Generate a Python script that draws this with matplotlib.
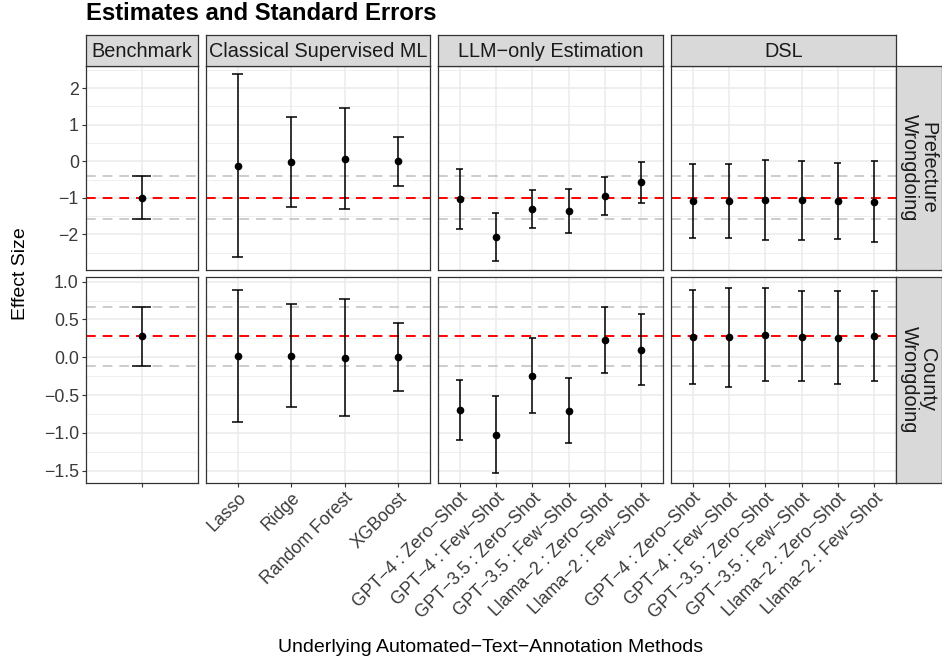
"""Estimates and standard errors for the four estimation approaches"""

import matplotlib.pyplot as plt

plt.rcParams['font.family'] = ['Liberation Sans', 'DejaVu Sans']
plt.rcParams['lines.scale_dashes'] = False

# Column and row labels
groups = ['Benchmark', 'Classical Supervised ML', 'LLM\u2212only Estimation', 'DSL']
outcomes = ['Prefecture\nWrongdoing', 'County\nWrongdoing']

# Methods in each column (Benchmark has a blank label)
llm_methods = ['GPT\u22124 : Zero\u2212Shot', 'GPT\u22124 : Few\u2212Shot',
               'GPT\u22123.5 : Zero\u2212Shot', 'GPT\u22123.5 : Few\u2212Shot',
               'Llama\u22122 : Zero\u2212Shot', 'Llama\u22122 : Few\u2212Shot']
methods = [[''], ['Lasso', 'Ridge', 'Random Forest', 'XGBoost'], llm_methods, llm_methods]

# Prefecture wrongdoing: estimate, lower and upper bounds per column
pref_est = [[-0.99],
            [-0.13, -0.02, 0.07, 0.00],
            [-1.02, -2.07, -1.30, -1.37, -0.95, -0.58],
            [-1.08, -1.08, -1.07, -1.07, -1.08, -1.10]]
pref_lo = [[-1.58],
           [-2.62, -1.25, -1.30, -0.67],
           [-1.84, -2.73, -1.83, -1.97, -1.47, -1.14],
           [-2.10, -2.09, -2.16, -2.16, -2.13, -2.20]]
pref_hi = [[-0.40],
           [2.37, 1.21, 1.45, 0.66],
           [-0.20, -1.40, -0.78, -0.75, -0.43, -0.03],
           [-0.07, -0.07, 0.03, 0.00, -0.05, 0.01]]

# County wrongdoing: estimate, lower and upper bounds per column
county_est = [[0.277],
              [0.01, 0.02, -0.01, 0.00],
              [-0.70, -1.03, -0.25, -0.71, 0.23, 0.10],
              [0.27, 0.27, 0.29, 0.27, 0.26, 0.285]]
county_lo = [[-0.11],
             [-0.86, -0.66, -0.78, -0.45],
             [-1.10, -1.53, -0.74, -1.14, -0.21, -0.37],
             [-0.36, -0.39, -0.32, -0.32, -0.35, -0.31]]
county_hi = [[0.667],
             [0.89, 0.71, 0.77, 0.45],
             [-0.30, -0.51, 0.25, -0.28, 0.67, 0.57],
             [0.89, 0.92, 0.92, 0.87, 0.87, 0.88]]

# y axis ticks per row
pref_ticks = [-2, -1, 0, 1, 2]
pref_minor = [-2.5, -1.5, -0.5, 0.5, 1.5, 2.5]
county_ticks = [-1.5, -1.0, -0.5, 0.0, 0.5, 1.0]
county_minor = [-1.25, -0.75, -0.25, 0.25, 0.75]

W, H = 942, 661
fig = plt.figure(figsize=(W / 100, H / 100), dpi=100)

# Pixel layout of the panel grid
col_left = [85.7, 205.7, 437.7, 670.7]
col_width = [112.3, 224.6, 225.3, 225.3]
row_top = [65.7, 276.7]
row_height = [204.3, 206.0]
border = '#333333'
tick_col = '#3a3a3a'


def px_axes(x, y, w, h):
    """Add axes from pixel box measured from the top-left corner"""
    return fig.add_axes([x / W, 1 - (y + h) / H, w / W, h / H])


rows = [(pref_est, pref_lo, pref_hi, (-2.97, 2.61), pref_ticks, pref_minor, ['2', '1', '0', '\u22121', '\u22122'][::-1]),
        (county_est, county_lo, county_hi, (-1.66, 1.065), county_ticks, county_minor,
         ['\u22121.5', '\u22121.0', '\u22120.5', '0.0', '0.5', '1.0'])]

for r, (est, lo, hi, ylim, ticks, minor, tlabels) in enumerate(rows):
    bench = est[0][0]
    bench_lo = lo[0][0]
    bench_hi = hi[0][0]
    for c in range(4):
        ax = px_axes(col_left[c], row_top[r], col_width[c], row_height[r])
        n = len(methods[c])
        xs = list(range(n))
        ax.set_xlim(-0.6, n - 0.4)
        ax.set_ylim(*ylim)

        # Grid
        ax.set_yticks(ticks)
        ax.set_yticks(minor, minor=True)
        ax.set_xticks(xs)
        ax.grid(True, which='major', color='#EBEBEB', linewidth=1.1)
        ax.grid(True, which='minor', axis='y', color='#EBEBEB', linewidth=0.55)
        ax.set_axisbelow(True)

        # Benchmark reference lines
        for yv in (bench_lo, bench_hi):
            ax.axhline(yv, color='#BEBEBE', linewidth=1.1, linestyle=(0, (7, 5)), zorder=1)
        ax.axhline(bench, color='red', linewidth=1.4, linestyle=(0, (7, 5)), zorder=1)

        # Error bars and points
        ax.vlines(xs, lo[c], hi[c], color='black', linewidth=1.1, zorder=3)
        ax.hlines(lo[c], [x - 0.1 for x in xs], [x + 0.1 for x in xs], color='black', linewidth=1.1, zorder=3)
        ax.hlines(hi[c], [x - 0.1 for x in xs], [x + 0.1 for x in xs], color='black', linewidth=1.1, zorder=3)
        ax.plot(xs, est[c], 'o', color='black', markersize=4.5, zorder=4)

        for s in ax.spines.values():
            s.set_color(border)
            s.set_linewidth(0.9)

        ax.tick_params(which='minor', length=0)
        ax.tick_params(which='major', color=border, length=3, width=0.8, labelcolor=tick_col, labelsize=12.8, pad=2)
        if c == 0:
            ax.set_yticklabels(tlabels)
        else:
            ax.tick_params(axis='y', length=0, labelleft=False)
        if r == 1:
            ax.set_xticklabels(methods[c], rotation=45, ha='right', va='top', rotation_mode='anchor')
        else:
            ax.tick_params(axis='x', length=0, labelbottom=False)

        # Column strips on top
        if r == 0:
            st = px_axes(col_left[c], 35, col_width[c], 30.7)
            st.set_facecolor('#D9D9D9')
            st.set_xticks([])
            st.set_yticks([])
            for s in st.spines.values():
                s.set_color(border)
                s.set_linewidth(0.9)
            st.text(0.5, 0.47, groups[c], ha='center', va='center', fontsize=14.3, color='#1A1A1A',
                    transform=st.transAxes)

    # Row strip on the right
    st = px_axes(896, row_top[r], 45.5, row_height[r])
    st.set_facecolor('#D9D9D9')
    st.set_xticks([])
    st.set_yticks([])
    for s in st.spines.values():
        s.set_color(border)
        s.set_linewidth(0.9)
    st.text(0.5, 0.5, outcomes[r], ha='center', va='center', rotation=270, fontsize=14.3,
            color='#1A1A1A', linespacing=0.95, transform=st.transAxes)

# Titles
fig.text(86 / W, 1 - 14 / H, 'Estimates and Standard Errors', fontsize=17.2, fontweight='bold',
         ha='left', va='center')
fig.text(20.7 / W, 1 - 274 / H, 'Effect Size', fontsize=14, rotation=90, ha='center', va='center')
fig.text(491 / W, 1 - 648 / H, 'Underlying Automated\u2212Text\u2212Annotation Methods', fontsize=14,
         ha='center', va='center')

plt.savefig('out.png', dpi=100)
